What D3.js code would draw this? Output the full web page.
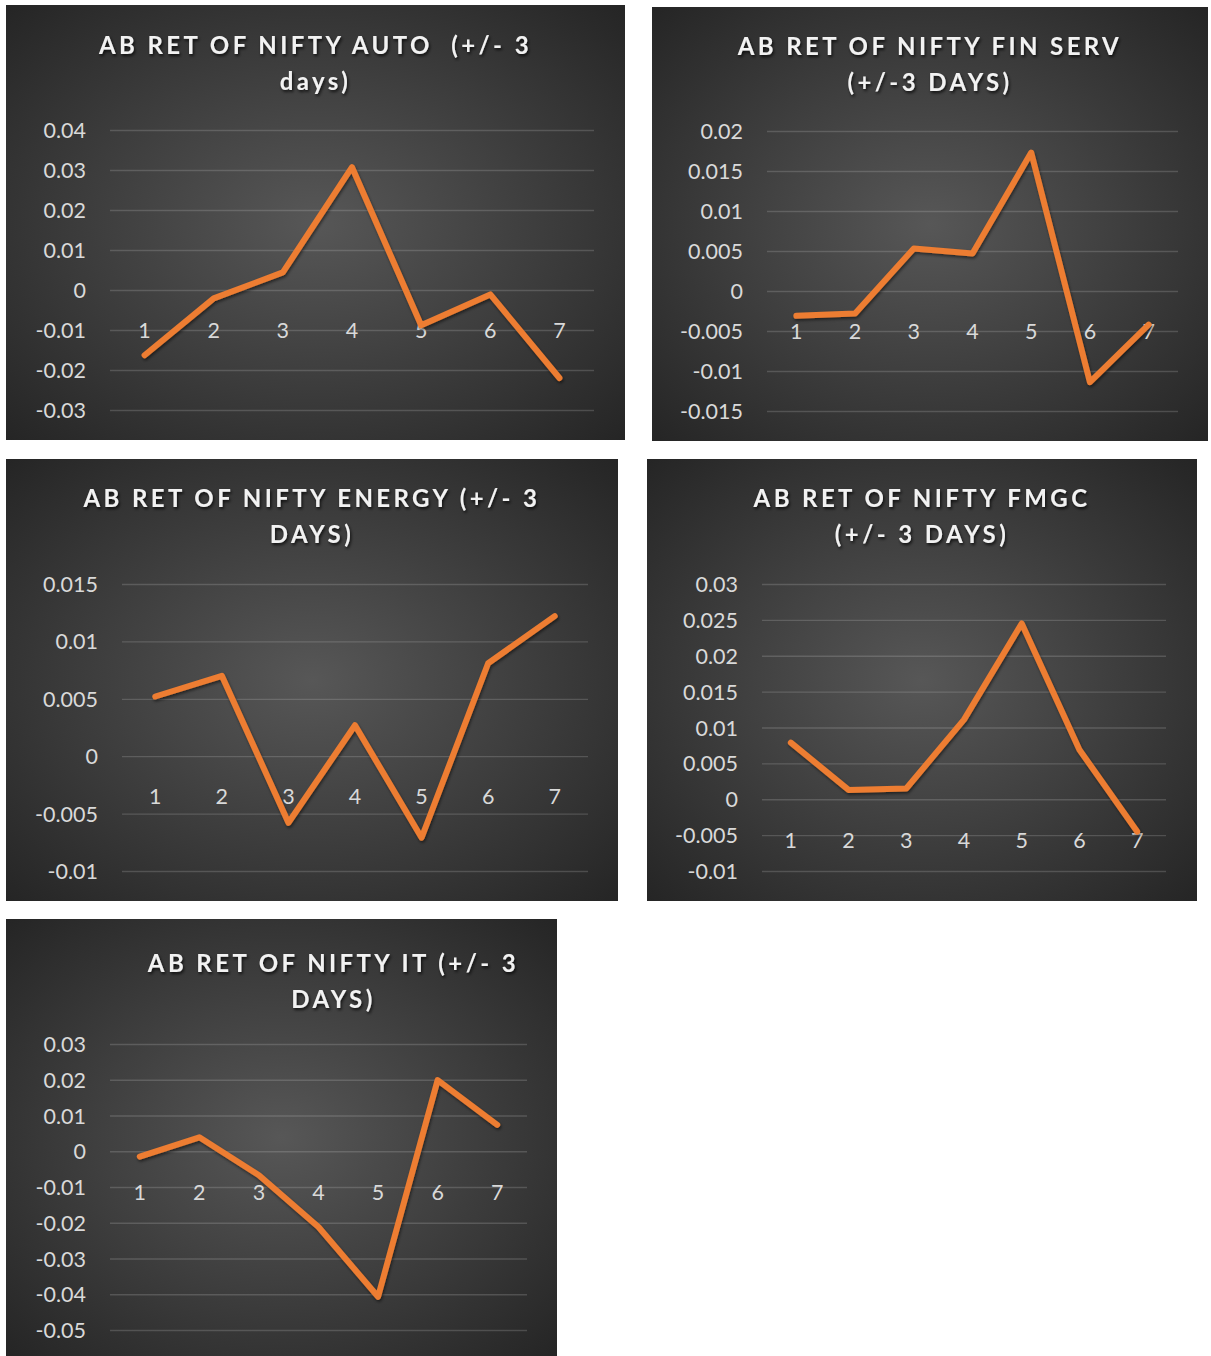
<!DOCTYPE html>
<html>
<head>
<meta charset="utf-8">
<script src="https://cdn.jsdelivr.net/npm/d3@7"></script>
<style>
  html, body { margin: 0; padding: 0; background: #ffffff; }
  svg { display: block; }
</style>
</head>
<body>
<svg id="chart" width="1211" height="1356"></svg>
<script>
// ---------------- DATA ----------------
const categories = ["1", "2", "3", "4", "5", "6", "7"];

const autoTitle = ["AB RET OF NIFTY AUTO  (+/- 3", "days)"];
const autoValues = [-0.0163, -0.0021, 0.0044, 0.0307, -0.0088, -0.0011, -0.0220];
const autoTicks = [0.04, 0.03, 0.02, 0.01, 0, -0.01, -0.02, -0.03];
const autoTickLabels = ["0.04", "0.03", "0.02", "0.01", "0", "-0.01", "-0.02", "-0.03"];

const finTitle = ["AB RET OF NIFTY FIN SERV", "(+/-3 DAYS)"];
const finValues = [-0.0031, -0.0028, 0.0053, 0.0047, 0.0173, -0.0114, -0.0042];
const finTicks = [0.02, 0.015, 0.01, 0.005, 0, -0.005, -0.01, -0.015];
const finTickLabels = ["0.02", "0.015", "0.01", "0.005", "0", "-0.005", "-0.01", "-0.015"];

const energyTitle = ["AB RET OF NIFTY ENERGY (+/- 3", "DAYS)"];
const energyValues = [0.0052, 0.0070, -0.0058, 0.0027, -0.0071, 0.0081, 0.0122];
const energyTicks = [0.015, 0.01, 0.005, 0, -0.005, -0.01];
const energyTickLabels = ["0.015", "0.01", "0.005", "0", "-0.005", "-0.01"];

const fmgcTitle = ["AB RET OF NIFTY FMGC", "(+/- 3 DAYS)"];
const fmgcValues = [0.0079, 0.0013, 0.0015, 0.0111, 0.0245, 0.0069, -0.0045];
const fmgcTicks = [0.03, 0.025, 0.02, 0.015, 0.01, 0.005, 0, -0.005, -0.01];
const fmgcTickLabels = ["0.03", "0.025", "0.02", "0.015", "0.01", "0.005", "0", "-0.005", "-0.01"];

const itTitle = ["AB RET OF NIFTY IT (+/- 3", "DAYS)"];
const itValues = [-0.0015, 0.0039, -0.0067, -0.0212, -0.0407, 0.0199, 0.0074];
const itTicks = [0.03, 0.02, 0.01, 0, -0.01, -0.02, -0.03, -0.04, -0.05];
const itTickLabels = ["0.03", "0.02", "0.01", "0", "-0.01", "-0.02", "-0.03", "-0.04", "-0.05"];

// ---------------- LAYOUT ----------------
const panels = [
  { title: autoTitle, values: autoValues, ticks: autoTicks, labels: autoTickLabels,
    box: [6, 5, 619, 435], plot: [110, 594, 130, 410], titleDx: 0, titleY: 45 },
  { title: finTitle, values: finValues, ticks: finTicks, labels: finTickLabels,
    box: [652, 7, 556, 434], plot: [767, 1178, 131, 411], titleDx: 0, titleY: 46 },
  { title: energyTitle, values: energyValues, ticks: energyTicks, labels: energyTickLabels,
    box: [6, 459, 612, 442], plot: [122, 588, 584, 871], titleDx: 0, titleY: 498 },
  { title: fmgcTitle, values: fmgcValues, ticks: fmgcTicks, labels: fmgcTickLabels,
    box: [647, 459, 550, 442], plot: [762, 1166, 584, 871], titleDx: 0, titleY: 498 },
  { title: itTitle, values: itValues, ticks: itTicks, labels: itTickLabels,
    box: [6, 919, 551, 437], plot: [110, 527, 1044, 1330], titleDx: 52, titleY: 963 }
];

const svg = d3.select("#chart");
const defs = svg.append("defs");

const grad = defs.append("radialGradient").attr("id", "bgGrad")
  .attr("cx", "50%").attr("cy", "50%").attr("r", "72%");
grad.append("stop").attr("offset", "0%").attr("stop-color", "#575757");
grad.append("stop").attr("offset", "100%").attr("stop-color", "#242424");

const tshadow = defs.append("filter").attr("id", "tshadow")
  .attr("x", "-10%").attr("y", "-30%").attr("width", "120%").attr("height", "160%");
tshadow.append("feDropShadow").attr("dx", 1.2).attr("dy", 2).attr("stdDeviation", 1.4)
  .attr("flood-color", "#000").attr("flood-opacity", 0.75);

const lshadow = defs.append("filter").attr("id", "lshadow")
  .attr("x", "-10%").attr("y", "-10%").attr("width", "120%").attr("height", "120%");
lshadow.append("feDropShadow").attr("dx", 1).attr("dy", 2).attr("stdDeviation", 1.5)
  .attr("flood-color", "#000").attr("flood-opacity", 0.5);

const FONT = "Lato, 'Open Sans', 'DejaVu Sans', sans-serif";

panels.forEach(p => {
  const [bx, by, bw, bh] = p.box;
  const [x0, x1, yTop, yBot] = p.plot;
  const g = svg.append("g");

  g.append("rect").attr("x", bx).attr("y", by).attr("width", bw).attr("height", bh)
    .attr("fill", "url(#bgGrad)");

  // title
  const tg = g.append("text")
    .attr("font-family", FONT).attr("font-weight", 700).attr("font-size", 24)
    .attr("letter-spacing", "3.4px")
    .attr("fill", "#f2f2f2").attr("text-anchor", "middle")
    .attr("filter", "url(#tshadow)")
    .style("white-space", "pre");
  p.title.forEach((line, i) => {
    tg.append("tspan").attr("x", bx + bw / 2 + p.titleDx)
      .attr("y", p.titleY + i * 36).attr("dy", "0.36em").text(line);
  });

  const x = d3.scaleBand().domain(categories).range([x0, x1]).padding(0);
  const y = d3.scaleLinear()
    .domain([d3.min(p.ticks), d3.max(p.ticks)])
    .range([yBot, yTop]);

  // y axis with gridlines
  const yAxis = d3.axisLeft(y).tickValues(p.ticks)
    .tickSize(-(x1 - x0)).tickPadding(24)
    .tickFormat((d, i) => p.labels[i]);
  const ya = g.append("g").attr("transform", `translate(${x0},0)`).call(yAxis);
  ya.select(".domain").remove();
  ya.selectAll(".tick line").attr("stroke", "#d9d9d9").attr("stroke-opacity", 0.2).attr("stroke-width", 1.3);
  ya.selectAll(".tick text").attr("fill", "#d9d9d9").attr("font-family", FONT)
    .attr("font-size", 21.5).attr("dy", "0.35em");

  // x axis (category labels)
  const xAxis = d3.axisBottom(x).tickSize(0).tickPadding(33);
  const xa = g.append("g").attr("transform", `translate(0,${y(0)})`).call(xAxis);
  xa.select(".domain").remove();
  xa.selectAll(".tick text").attr("fill", "#d9d9d9").attr("font-family", FONT)
    .attr("font-size", 21.5);

  // line
  const line = d3.line()
    .x((d, i) => x(categories[i]) + x.bandwidth() / 2)
    .y(d => y(d));
  g.append("path").datum(p.values)
    .attr("d", line)
    .attr("fill", "none")
    .attr("stroke", "#ED7D31")
    .attr("stroke-width", 6)
    .attr("stroke-linejoin", "round")
    .attr("stroke-linecap", "round")
    .attr("filter", "url(#lshadow)");
});
</script>
</body>
</html>
